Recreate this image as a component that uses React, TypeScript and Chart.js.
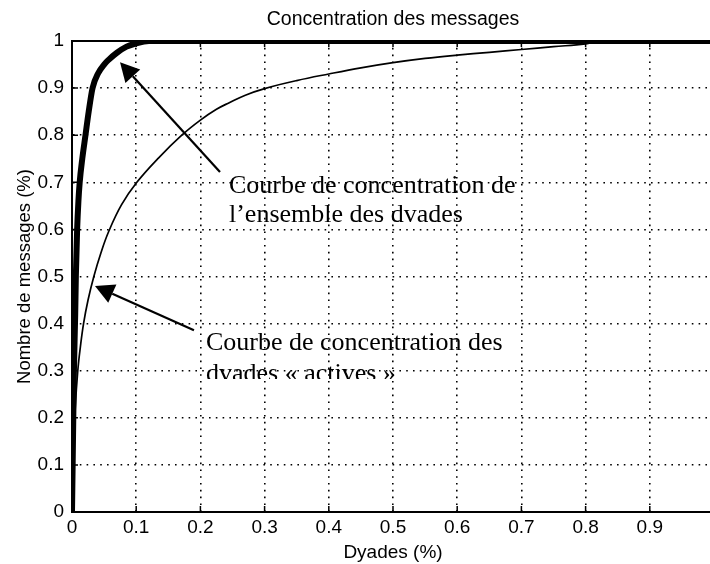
import React, { useEffect, useRef } from "react";
import { Chart, registerables } from "chart.js";

Chart.register(...registerables);

// ---- data ----
const allDyadesX = [0, 0.001, 0.002, 0.003, 0.005, 0.006, 0.008, 0.01, 0.012, 0.016, 0.021, 0.026, 0.032, 0.041, 0.05, 0.057, 0.07, 0.085, 0.1, 0.112, 0.12, 1.0];
const allDyadesY = [0, 0.1, 0.2, 0.3, 0.42, 0.5, 0.6, 0.66, 0.7, 0.75, 0.8, 0.85, 0.9, 0.932, 0.95, 0.96, 0.975, 0.988, 0.995, 0.999, 1.0, 1.0];

const activeDyadesX = [0, 0.002, 0.005, 0.009, 0.013, 0.018, 0.025, 0.034, 0.045, 0.057, 0.077, 0.101, 0.135, 0.171, 0.2, 0.225, 0.245, 0.27, 0.3, 0.35, 0.4, 0.45, 0.5, 0.55, 0.6, 0.65, 0.7, 0.75, 0.8, 0.82, 1.0];
const activeDyadesY = [0, 0.12, 0.22, 0.3, 0.35, 0.4, 0.45, 0.5, 0.55, 0.595, 0.652, 0.7, 0.752, 0.8, 0.832, 0.855, 0.869, 0.885, 0.899, 0.916, 0.93, 0.943, 0.954, 0.963, 0.97, 0.976, 0.982, 0.988, 0.994, 1.0, 1.0];

const xTickValues = [0, 0.1, 0.2, 0.3, 0.4, 0.5, 0.6, 0.7, 0.8, 0.9, 1];
const yTickValues = [0, 0.1, 0.2, 0.3, 0.4, 0.5, 0.6, 0.7, 0.8, 0.9, 1];

const chartTitle = "Concentration des messages";
const xAxisTitle = "Dyades (%)";
const yAxisTitle = "Nombre de messages (%)";

const noteAllLines = ["Courbe de concentration de", "l\u2019ensemble des dvades"];
const noteActiveLines = ["Courbe de concentration des", "dvades \u00ab actives \u00bb"];

// annotation anchors in data coordinates
const noteAllAnchor = { x: 0.2445, y: 0.677 };
const noteActiveAnchor = { x: 0.2087, y: 0.344 };
const arrowAll = { fromX: 0.2305, fromY: 0.722, toX: 0.0748, toY: 0.955 };
const arrowActive = { fromX: 0.19, fromY: 0.386, toX: 0.0358, toY: 0.48 };

const SANS = '"Liberation Sans", Arial, Helvetica, sans-serif';
const SERIF = '"Liberation Serif", "Times New Roman", serif';

function drawArrow(ctx: CanvasRenderingContext2D, x1: number, y1: number, x2: number, y2: number) {
  const ang = Math.atan2(y2 - y1, x2 - x1);
  const headLen = 19;
  const headHalf = 10;
  const bx = x2 - headLen * Math.cos(ang);
  const by = y2 - headLen * Math.sin(ang);
  ctx.beginPath();
  ctx.moveTo(x1, y1);
  ctx.lineTo(bx, by);
  ctx.lineWidth = 2.2;
  ctx.strokeStyle = "#000";
  ctx.stroke();
  ctx.beginPath();
  ctx.moveTo(x2, y2);
  ctx.lineTo(bx + headHalf * Math.sin(ang), by - headHalf * Math.cos(ang));
  ctx.lineTo(bx - headHalf * Math.sin(ang), by + headHalf * Math.cos(ang));
  ctx.closePath();
  ctx.fillStyle = "#000";
  ctx.fill();
}

const matlabPlugin = {
  id: "matlabDecor",
  afterDatasetsDraw(chart: any) {
    const { ctx, chartArea, scales } = chart;
    const xs = scales.x;
    const ys = scales.y;
    ctx.save();
    // box top / right lines
    ctx.strokeStyle = "#000";
    ctx.lineWidth = 2;
    ctx.beginPath();
    ctx.moveTo(chartArea.left, chartArea.top);
    ctx.lineTo(chartArea.right, chartArea.top);
    ctx.lineTo(chartArea.right, chartArea.bottom);
    ctx.stroke();
    // inner ticks
    ctx.lineWidth = 1.5;
    ctx.beginPath();
    for (const v of xTickValues) {
      const px = xs.getPixelForValue(v);
      ctx.moveTo(px, chartArea.bottom);
      ctx.lineTo(px, chartArea.bottom - 6);
      ctx.moveTo(px, chartArea.top);
      ctx.lineTo(px, chartArea.top + 6);
    }
    for (const v of yTickValues) {
      const py = ys.getPixelForValue(v);
      ctx.moveTo(chartArea.left, py);
      ctx.lineTo(chartArea.left + 6, py);
    }
    ctx.stroke();

    // arrows
    for (const a of [arrowAll, arrowActive]) {
      drawArrow(
        ctx,
        xs.getPixelForValue(a.fromX),
        ys.getPixelForValue(a.fromY),
        xs.getPixelForValue(a.toX),
        ys.getPixelForValue(a.toY)
      );
    }

    // notes
    ctx.font = `26px ${SERIF}`;
    ctx.fillStyle = "#000";
    ctx.textAlign = "left";
    ctx.textBaseline = "alphabetic";
    const lineGap = 29;
    {
      const x0 = xs.getPixelForValue(noteAllAnchor.x);
      const y0 = ys.getPixelForValue(noteAllAnchor.y);
      noteAllLines.forEach((t, i) => ctx.fillText(t, x0, y0 + i * lineGap));
    }
    {
      const x0 = xs.getPixelForValue(noteActiveAnchor.x);
      const y0 = ys.getPixelForValue(noteActiveAnchor.y);
      ctx.fillText(noteActiveLines[0], x0, y0);
      // second line is cut off in the original scan
      ctx.save();
      ctx.beginPath();
      ctx.rect(chartArea.left, chartArea.top, chartArea.right - chartArea.left, y0 + lineGap - chartArea.top);
      ctx.clip();
      ctx.fillText(noteActiveLines[1], x0, y0 + lineGap + 2);
      ctx.restore();
    }
    ctx.restore();
  },
};

const fmt = (v: number) => String(Math.round(Number(v) * 10) / 10);

export default function App() {
  const ref = useRef<HTMLCanvasElement | null>(null);

  useEffect(() => {
    if (!ref.current) return;
    const allData = allDyadesX.map((x, i) => ({ x, y: allDyadesY[i] }));
    const activeData = activeDyadesX.map((x, i) => ({ x, y: activeDyadesY[i] }));
    const edgeHidden = (ctx: any) => {
      const v = ctx.tick ? ctx.tick.value : null;
      return v === 0 || v === 1 ? "rgba(0,0,0,0)" : "#000";
    };
    const chart = new Chart(ref.current, {
      type: "line",
      data: {
        datasets: [
          {
            label: "Ensemble des dyades",
            data: allData,
            borderColor: "#000",
            borderWidth: 6,
            pointRadius: 0,
            cubicInterpolationMode: "monotone",
            fill: false,
          },
          {
            label: "Dyades actives",
            data: activeData,
            borderColor: "#000",
            borderWidth: 1.7,
            pointRadius: 0,
            tension: 0.4,
            fill: false,
          },
        ],
      },
      options: {
        animation: false,
        responsive: false,
        devicePixelRatio: 1,
        layout: { padding: { left: 0, right: 26, top: 0, bottom: 0 } },
        plugins: {
          legend: { display: false },
          tooltip: { enabled: false },
          title: {
            display: true,
            text: chartTitle,
            fullSize: false,
            color: "#000",
            font: { family: SANS, size: 19.5, weight: "normal" },
            padding: { top: 8, bottom: 9.6 },
          },
        },
        scales: {
          x: {
            type: "linear",
            min: 0,
            max: 1,
            afterBuildTicks: (s: any) => {
              s.ticks = xTickValues.map((v) => ({ value: v }));
            },
            afterFit: (s: any) => {
              s.height = 52;
            },
            ticks: {
              color: "#000",
              font: { family: SANS, size: 19 },
              padding: 4,
              maxRotation: 0,
              autoSkip: false,
              callback: (v: any) => fmt(v),
            },
            grid: { color: edgeHidden, lineWidth: 1.6, drawTicks: false },
            border: { display: true, color: "#000", width: 2, dash: [1.6, 5.2] },
            title: {
              display: true,
              text: xAxisTitle,
              color: "#000",
              font: { family: SANS, size: 19 },
              padding: { top: 0, bottom: 0 },
            },
          },
          y: {
            type: "linear",
            min: 0,
            max: 1,
            afterBuildTicks: (s: any) => {
              s.ticks = yTickValues.map((v) => ({ value: v }));
            },
            afterFit: (s: any) => {
              s.width = 72;
            },
            ticks: {
              color: "#000",
              font: { family: SANS, size: 19 },
              padding: 8,
              autoSkip: false,
              callback: (v: any) => fmt(v),
            },
            grid: { color: edgeHidden, lineWidth: 1.6, drawTicks: false },
            border: { display: true, color: "#000", width: 2, dash: [1.6, 5.2] },
            title: {
              display: true,
              text: yAxisTitle,
              color: "#000",
              font: { family: SANS, size: 18.5 },
              padding: { top: 14, bottom: 0 },
            },
          },
        },
      },
      plugins: [matlabPlugin],
    } as any);
    return () => chart.destroy();
  }, []);

  return (
    <div style={{ position: "fixed", left: 0, top: 0, width: 740, height: 564, background: "#fff" }}>
      <canvas ref={ref} width={740} height={564} style={{ display: "block" }} />
    </div>
  );
}
